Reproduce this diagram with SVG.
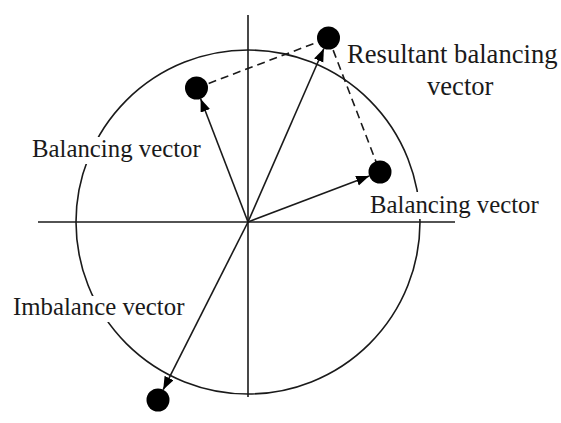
<svg xmlns="http://www.w3.org/2000/svg" width="561" height="423" viewBox="0 0 561 423">
<style>
.ln{stroke:#1a1a1a;stroke-width:1.6;fill:none}
.vec{stroke:#1a1a1a;stroke-width:1.6;fill:none;marker-end:url(#ah)}
.dash{stroke:#1a1a1a;stroke-width:1.6;fill:none;stroke-dasharray:8 5}
.dot{fill:#000}
.bg{fill:#fff}
.lbl{font-family:'Liberation Serif','Times New Roman',serif;font-size:24.8px;fill:#1a1a1a}
.big{font-size:26.6px}
</style>
<defs>
<marker id="ah" markerUnits="userSpaceOnUse" markerWidth="14" markerHeight="11" refX="13" refY="5" orient="auto">
<path d="M0,0 L13,5 L0,10 z" fill="#000"/>
</marker>
</defs>
<rect width="561" height="423" fill="#fff"/>
<g id="circle"><circle class="ln" cx="248" cy="222" r="172"/></g>
<g id="label-bg">
<rect class="bg" x="29" y="137" width="176" height="27"/>
<rect class="bg" x="366" y="192" width="176" height="27"/>
<rect class="bg" x="10" y="296" width="178" height="26"/>
</g>
<g id="axes">
<line class="ln" x1="38" y1="222" x2="455" y2="222"/>
<line class="ln" x1="248" y1="15" x2="248" y2="397"/>
</g>
<g id="connectors">
<line class="vec" x1="248" y1="222" x2="200.6" y2="98.7"/>
<line class="vec" x1="248" y1="222" x2="323.9" y2="48.5"/>
<line class="vec" x1="248" y1="222" x2="369.2" y2="176.1"/>
<line class="vec" x1="248" y1="222" x2="163.2" y2="389.7"/>
<line class="dash" x1="196.5" y1="88" x2="328.5" y2="38"/>
<line class="dash" x1="328.5" y1="38" x2="380" y2="172"/>
</g>
<g id="dot-balancing-1"><circle class="dot" cx="196.5" cy="88" r="11.5"/></g>
<g id="dot-resultant"><circle class="dot" cx="328.5" cy="38" r="11.5"/></g>
<g id="dot-balancing-2"><circle class="dot" cx="380" cy="172" r="11.5"/></g>
<g id="dot-imbalance"><circle class="dot" cx="158" cy="400" r="11.5"/></g>
<g id="labels">
<text class="lbl" x="32" y="157">Balancing vector</text>
<text class="lbl" x="370" y="213">Balancing vector</text>
<text class="lbl" x="13" y="315">Imbalance vector</text>
<text class="lbl big" x="347" y="63">Resultant balancing</text>
<text class="lbl big" x="427" y="95">vector</text>
</g>
</svg>
